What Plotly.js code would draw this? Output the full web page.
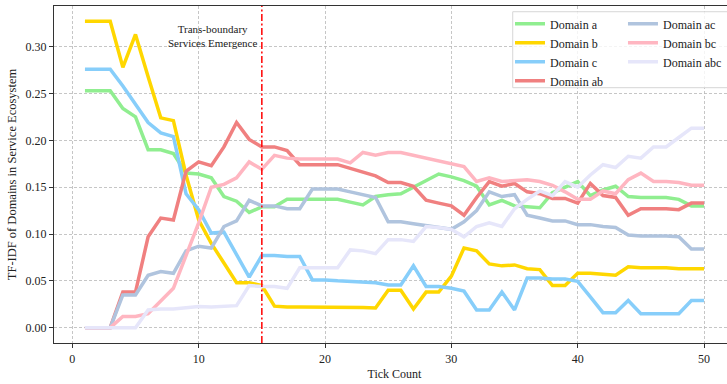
<!DOCTYPE html>
<html>
<head>
<meta charset="utf-8">
<script src="https://cdn.plot.ly/plotly-3.0.1.min.js"></script>
<style>
html,body{margin:0;padding:0;overflow:hidden;background:#fff;width:727px;height:384px;}
#chart{width:735px;height:384px;}
</style>
</head>
<body>
<div id="chart"></div>
<script>
const ticks = [1,2,3,4,5,6,7,8,9,10,11,12,13,14,15,16,17,18,19,20,21,22,23,24,25,26,27,28,29,30,31,32,33,34,35,36,37,38,39,40,41,42,43,44,45,46,47,48,49,50];

const domainA = [0.253,0.253,0.253,0.234,0.225,0.190,0.190,0.186,0.165,0.164,
  0.160,0.140,0.135,0.123,0.129,0.129,0.137,0.137,0.137,0.137,
  0.137,0.134,0.131,0.140,0.142,0.143,0.150,0.158,0.164,0.161,
  0.157,0.151,0.131,0.136,0.130,0.129,0.128,0.144,0.150,0.156,
  0.141,0.147,0.151,0.140,0.139,0.139,0.139,0.137,0.130,0.130];

const domainB = [0.327,0.327,0.327,0.278,0.313,0.268,0.224,0.221,0.163,0.115,
  0.090,0.069,0.048,0.048,0.045,0.023,0.022,0.022,0.022,0.022,
  0.022,0.022,0.0215,0.021,0.040,0.040,0.020,0.038,0.038,0.055,
  0.085,0.082,0.068,0.066,0.067,0.063,0.062,0.045,0.045,0.058,
  0.058,0.057,0.056,0.065,0.064,0.064,0.064,0.063,0.063,0.063];

const domainC = [0.276,0.276,0.276,0.258,0.238,0.219,0.208,0.204,0.143,0.126,
  0.101,0.102,0.078,0.054,0.077,0.077,0.076,0.076,0.051,0.051,
  0.050,0.0495,0.0485,0.048,0.0455,0.0455,0.066,0.044,0.044,0.042,
  0.039,0.019,0.019,0.038,0.019,0.053,0.053,0.052,0.052,0.0495,
  0.033,0.016,0.016,0.029,0.015,0.015,0.015,0.015,0.029,0.029];

const domainAB = [0,0,0,0.038,0.038,0.097,0.117,0.115,0.167,0.177,
  0.173,0.193,0.219,0.201,0.193,0.193,0.189,0.174,0.174,0.174,
  0.174,0.170,0.166,0.162,0.155,0.155,0.151,0.136,0.133,0.130,
  0.120,0.139,0.156,0.151,0.154,0.145,0.143,0.138,0.138,0.133,
  0.154,0.141,0.139,0.120,0.127,0.127,0.127,0.126,0.133,0.133];

const domainAC = [0,0,0,0.035,0.035,0.056,0.060,0.058,0.082,0.087,
  0.085,0.108,0.114,0.136,0.130,0.130,0.127,0.127,0.148,0.148,
  0.148,0.145,0.142,0.139,0.113,0.113,0.111,0.109,0.107,0.105,
  0.113,0.125,0.145,0.140,0.142,0.120,0.117,0.114,0.114,0.110,
  0.110,0.108,0.107,0.099,0.098,0.098,0.098,0.097,0.084,0.084];

const domainBC = [0,0,0,0.012,0.012,0.015,0.029,0.042,0.077,0.112,
  0.150,0.153,0.160,0.177,0.169,0.184,0.181,0.180,0.180,0.180,
  0.180,0.176,0.187,0.184,0.187,0.187,0.184,0.181,0.178,0.175,
  0.172,0.156,0.160,0.156,0.157,0.158,0.156,0.152,0.145,0.137,
  0.137,0.146,0.143,0.158,0.165,0.156,0.156,0.155,0.152,0.152];

const domainABC = [0,0,0,0,0,0.019,0.020,0.020,0.021,0.0225,
  0.022,0.0225,0.0235,0.045,0.044,0.044,0.042,0.064,0.064,0.064,
  0.064,0.083,0.082,0.079,0.094,0.094,0.092,0.108,0.107,0.105,
  0.097,0.108,0.112,0.108,0.127,0.137,0.146,0.141,0.156,0.150,
  0.163,0.174,0.171,0.183,0.181,0.193,0.193,0.203,0.213,0.213];

const seriesNames = ["Domain a","Domain b","Domain c","Domain ab","Domain ac","Domain bc","Domain abc"];
const seriesValues = [domainA, domainB, domainC, domainAB, domainAC, domainBC, domainABC];
const seriesColors = ["#90ee90","#ffd700","#87cefa","#f08080","#b0c4de","#ffb6c1","#e6e6fa"];
const seriesLegend = ["legend","legend","legend","legend","legend2","legend2","legend2"];

const emergenceTick = 15;
const annotationText = "Trans-boundary<br>Services Emergence";
const xTitle = "Tick Count";
const yTitle = "TF-IDF of Domains in Service Ecosystem";

const FONT = "Liberation Serif, Times New Roman, serif";

const traces = seriesNames.map((n, i) => ({
  x: ticks, y: seriesValues[i], name: n, type: "scatter", mode: "lines",
  line: {color: seriesColors[i], width: 3.5}, legend: seriesLegend[i]
}));

const axisCommon = {
  showline: true, linecolor: "#333", linewidth: 1.2, mirror: true,
  ticks: "outside", ticklen: 4, tickcolor: "#333", tickwidth: 1,
  showgrid: true, gridcolor: "#b8b8b8", gridwidth: 0.8, griddash: "3px,2px",
  zeroline: false, tickfont: {family: FONT, size: 12, color: "#222"}
};

const layout = {
  width: 735, height: 384,
  margin: {l: 54, r: 0, t: 6, b: 41},
  paper_bgcolor: "#fff", plot_bgcolor: "#fff",
  font: {family: FONT, size: 12, color: "#222"},
  xaxis: Object.assign({}, axisCommon, {
    range: [-1.45, 52.45], tick0: 0, dtick: 10,
    title: {text: xTitle, font: {family: FONT, size: 12, color: "#222"}, standoff: 5}
  }),
  yaxis: Object.assign({}, axisCommon, {
    range: [-0.01635, 0.3434], tick0: 0, dtick: 0.05, tickformat: ".2f",
    title: {text: yTitle, font: {family: FONT, size: 12.5, color: "#222"}, standoff: 6}
  }),
  showlegend: true,
  legend: {x: 0.6696, y: 0.99, xanchor: "left", yanchor: "top", bgcolor: "rgba(0,0,0,0)",
    borderwidth: 0, font: {family: FONT, size: 12, color: "#222"}, tracegroupgap: 0},
  legend2: {x: 0.8355, y: 0.99, xanchor: "left", yanchor: "top", bgcolor: "rgba(0,0,0,0)",
    borderwidth: 0, font: {family: FONT, size: 12, color: "#222"}, tracegroupgap: 0},
  shapes: [
    {type: "line", xref: "x", yref: "paper", x0: emergenceTick, x1: emergenceTick, y0: 0, y1: 1,
     line: {color: "#ff0000", width: 1.5, dash: "7px,2.5px,2px,2.5px"}, layer: "above"},
    {type: "rect", xref: "paper", yref: "paper", x0: 0.6736, x1: 1.02, y0: 0.7576, y1: 0.983,
     fillcolor: "rgba(255,255,255,0.8)", line: {color: "#d6d6d6", width: 1}, layer: "above"}
  ],
  annotations: [
    {x: 14.75, y: 0.3117, xref: "x", yref: "y", text: annotationText, showarrow: false,
     xanchor: "right", yanchor: "middle", align: "center",
     font: {family: FONT, size: 11, color: "#222"}}
  ]
};

Plotly.newPlot("chart", traces, layout, {displayModeBar: false, staticPlot: true});
</script>
</body>
</html>
